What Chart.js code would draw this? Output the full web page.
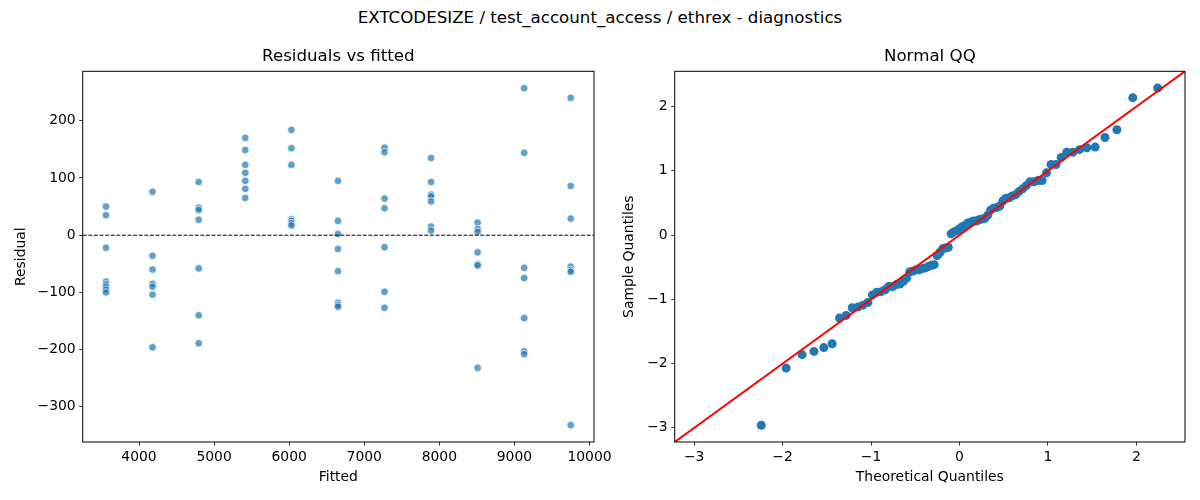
<!DOCTYPE html>
<html>
<head>
<meta charset="utf-8">
<title>EXTCODESIZE diagnostics</title>
<script src="https://cdn.jsdelivr.net/npm/chart.js@4.4.1/dist/chart.umd.min.js"></script>
<style>
  html, body { margin: 0; padding: 0; background: #fff; }
  #fig { position: relative; width: 1200px; height: 500px; font-family: 'DejaVu Sans', sans-serif; }
  #suptitle { position: absolute; top: 8px; left: 0; width: 1200px; text-align: center; font-size: 16.67px; line-height: 20px; color: #000; }
  .panel { position: absolute; top: 0; height: 500px; }
</style>
</head>
<body>
<div id="fig">
  <div id="suptitle">EXTCODESIZE / test_account_access / ethrex - diagnostics</div>
  <div class="panel" style="left:0;width:640px"><canvas id="resid-chart" width="640" height="500"></canvas></div>
  <div class="panel" style="left:600px;width:600px"><canvas id="qq-chart" width="600" height="500"></canvas></div>
</div>
<script>
// residuals vs fitted: one column of points per fitted level
const fittedLevels = [3560, 4180, 4795, 5415, 6030, 6650, 7270, 7890, 8510, 9130, 9750];
const residualsByLevel = [
  [50, 35, -22, -81, -86, -90, -95, -100],
  [76, -36, -60, -85, -90, -104, -196],
  [93, 48, 44, 27, -58, -140, -189],
  [170, 149, 123, 109, 95, 81, 65],
  [184, 152, 123, 28, 25, 21, 17],
  [95, 25, 2, -24, -63, -118, -122, -125],
  [153, 145, 64, 47, -21, -99, -127],
  [135, 93, 71, 68, 59, 15, 8],
  [22, 11, 6, -30, -51, -53, -232],
  [257, 144, -57, -75, -145, -203, -208],
  [240, 86, 29, -55, -61, -64, -332],
];
const fittedTicks = [4000, 5000, 6000, 7000, 8000, 9000, 10000];
const residualTicks = [-300, -200, -100, 0, 100, 200];
const fittedRange = [3250, 10060];
const residualRange = [-361.5, 286.5];

// normal QQ
const theoreticalQuantiles = [
  -2.241, -1.960, -1.780, -1.645, -1.534, -1.440, -1.356, -1.282, -1.213, -1.150,
  -1.092, -1.036, -0.984, -0.935, -0.887, -0.842, -0.798, -0.755, -0.714, -0.674,
  -0.636, -0.598, -0.561, -0.524, -0.489, -0.454, -0.419, -0.385, -0.352, -0.319,
  -0.286, -0.253, -0.221, -0.189, -0.157, -0.126, -0.094, -0.063, -0.031, 0.000,
  0.031, 0.063, 0.094, 0.126, 0.157, 0.189, 0.221, 0.253, 0.286, 0.319,
  0.352, 0.385, 0.419, 0.454, 0.489, 0.524, 0.561, 0.598, 0.636, 0.674,
  0.714, 0.755, 0.798, 0.842, 0.887, 0.935, 0.984, 1.036, 1.092, 1.150,
  1.213, 1.282, 1.356, 1.440, 1.534, 1.645, 1.780, 1.960, 2.241,
];
const sampleQuantiles = [
  -2.96, -2.07, -1.86, -1.81, -1.75, -1.69, -1.29, -1.25, -1.13, -1.12,
  -1.09, -1.05, -0.93, -0.89, -0.88, -0.85, -0.80, -0.80, -0.77, -0.76,
  -0.72, -0.67, -0.57, -0.56, -0.54, -0.54, -0.52, -0.51, -0.49, -0.47,
  -0.46, -0.32, -0.27, -0.21, -0.20, -0.19, 0.02, 0.05, 0.07, 0.10,
  0.13, 0.15, 0.19, 0.20, 0.22, 0.22, 0.24, 0.25, 0.26, 0.31,
  0.39, 0.42, 0.43, 0.45, 0.53, 0.57, 0.58, 0.61, 0.63, 0.68,
  0.72, 0.77, 0.83, 0.83, 0.85, 0.85, 0.97, 1.10, 1.10, 1.21,
  1.29, 1.29, 1.33, 1.36, 1.37, 1.52, 1.64, 2.14, 2.29,
];
const qqTicks = [-3, -2, -1, 0, 1, 2];
const qqRange = [-3.22, 2.55];

const FONT = "'DejaVu Sans', sans-serif";

// matplotlib draws a full box round each axes, and centres the title on it
const frame = {
  id: 'frame',
  afterDatasetsDraw(chart, args, opts) {
    const { ctx, chartArea: a } = chart;
    ctx.save();
    ctx.strokeStyle = '#000';
    ctx.lineWidth = 1;
    ctx.strokeRect(a.left, a.top, a.right - a.left, a.bottom - a.top);
    ctx.fillStyle = '#000';
    ctx.font = `16.67px ${FONT}`;
    ctx.textAlign = 'center';
    ctx.textBaseline = 'middle';
    ctx.fillText(opts.text, (a.left + a.right) / 2, a.top - 15);
    ctx.restore();
  },
};

function minus(v) {
  return String(v).replace('-', '\u2212');
}

function axis(ticks, range, title, titlePad, size, isX) {
  return {
    type: 'linear',
    min: range[0],
    max: range[1],
    afterBuildTicks: (scale) => { scale.ticks = ticks.map((value) => ({ value })); },
    afterFit: (scale) => {
      // fixed box sizes, and let edge labels spill over like matplotlib does
      if (isX) {
        scale.height = size;
        scale.paddingLeft = 0;
        scale.paddingRight = 0;
      } else {
        scale.width = size;
        scale.paddingTop = 0;
        scale.paddingBottom = 0;
      }
    },
    border: { display: false },
    grid: { drawOnChartArea: false, drawTicks: true, tickLength: 3.5, color: '#000', lineWidth: 0.8 },
    ticks: {
      color: '#000',
      padding: 3.5,
      maxRotation: 0,
      autoSkip: false,
      font: { family: FONT, size: 13.9 },
      callback: (value) => minus(value),
    },
    title: {
      display: true,
      text: title,
      color: '#000',
      font: { family: FONT, size: 13.9 },
      padding: isX ? { top: 0, bottom: titlePad } : { top: titlePad, bottom: 0 },
    },
  };
}

const residPoints = [];
fittedLevels.forEach((fitted, i) => {
  residualsByLevel[i].forEach((r) => residPoints.push({ x: fitted, y: r }));
});

new Chart(document.querySelector('#resid-chart'), {
  type: 'scatter',
  data: {
    datasets: [
      {
        type: 'line',
        data: [{ x: fittedRange[0], y: 0 }, { x: fittedRange[1], y: 0 }],
        borderColor: '#000',
        borderWidth: 1,
        borderDash: [4, 1.6],
        pointRadius: 0,
        order: 0,
      },
      {
        data: residPoints,
        backgroundColor: 'rgba(31, 119, 180, 0.7)',
        borderColor: 'rgba(255, 255, 255, 0.9)',
        borderWidth: 0.8,
        pointRadius: 3.8,
        order: 1,
      },
    ],
  },
  options: {
    responsive: false,
    animation: false,
    events: [],
    layout: { padding: { top: 71.3, right: 46, left: 0, bottom: 0 } },
    plugins: {
      legend: { display: false },
      tooltip: { enabled: false },
      frame: { text: 'Residuals vs fitted' },
    },
    scales: {
      x: axis(fittedTicks, fittedRange, 'Fitted', 14.7, 58, true),
      y: axis(residualTicks, residualRange, 'Residual', 13.5, 82.7, false),
    },
  },
  plugins: [frame],
});

new Chart(document.querySelector('#qq-chart'), {
  type: 'scatter',
  data: {
    datasets: [
      {
        type: 'line',
        data: [{ x: qqRange[0], y: qqRange[0] }, { x: qqRange[1], y: qqRange[1] }],
        borderColor: '#ff0000',
        borderWidth: 2,
        pointRadius: 0,
        order: 0,
      },
      {
        data: theoreticalQuantiles.map((q, i) => ({ x: q, y: sampleQuantiles[i] })),
        backgroundColor: '#1f77b4',
        borderWidth: 0,
        pointRadius: 4.5,
        order: 1,
      },
    ],
  },
  options: {
    responsive: false,
    animation: false,
    events: [],
    layout: { padding: { top: 71.3, right: 15, left: 0, bottom: 0 } },
    plugins: {
      legend: { display: false },
      tooltip: { enabled: false },
      frame: { text: 'Normal QQ' },
    },
    scales: {
      x: axis(qqTicks, qqRange, 'Theoretical Quantiles', 14.7, 58, true),
      y: axis(qqTicks, qqRange, 'Sample Quantiles', 21, 74.7, false),
    },
  },
  plugins: [frame],
});
</script>
</body>
</html>
